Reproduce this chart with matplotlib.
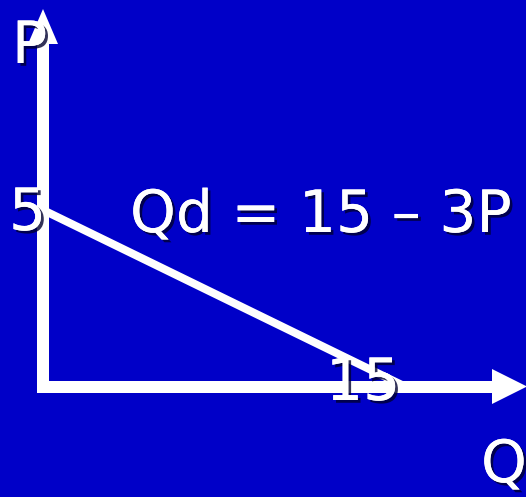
import matplotlib
matplotlib.use("Agg")
import matplotlib.pyplot as plt
import matplotlib.patheffects as pe
from matplotlib.patches import Polygon
import numpy as np

# Data: demand curve Qd = 15 - 3P
price = [0, 5]
quantity = [15 - 3 * p for p in price]  # [15, 0]
p_intercept_label = "5"
q_intercept_label = "15"
equation = "Qd = 15 – 3P"
axis_labels = ["Q", "P"]

W, H = 526, 497
BG = "#0000C8"
fig = plt.figure(figsize=(W / 100, H / 100), dpi=100, facecolor=BG)
ax = fig.add_axes([0, 0, 1, 1])
ax.set_facecolor(BG)
ax.axis("off")

# pixel geometry of origin and scales
X0, Y0 = 43, 386.5
SX = (405 - 43) / 15.0   # px per unit Q
SY = (386.5 - 210) / 5.0  # px per unit P
ax.set_xlim(-X0 / SX, (W - X0) / SX)
ax.set_ylim((Y0 - H) / SY, Y0 / SY)

def dx(px):
    return (px - X0) / SX

def dy(py):
    return (Y0 - py) / SY

white = "white"
lw_axis = 12 / (100 / 72)
lw_curve = 8 / (100 / 72)

# axes
ax.plot([0, 0], [dy(392.5), dy(44)], color=white, lw=lw_axis, solid_capstyle="butt")
ax.plot([dx(37), dx(493)], [0, 0], color=white, lw=lw_axis, solid_capstyle="butt")
ax.add_patch(Polygon([[dx(28), dy(44)], [dx(58), dy(44)], [0, dy(9)]],
                     closed=True, color=white, lw=0))
ax.add_patch(Polygon([[dx(492), dy(369)], [dx(492), dy(404)], [dx(527), 0]],
                     closed=True, color=white, lw=0))

# demand curve
ax.plot(quantity, price, color=white, lw=lw_curve, solid_capstyle="butt")

fx = [pe.withSimplePatchShadow(offset=(2, -2), shadow_rgbFace="#000030", alpha=0.8),
      pe.Normal()]
fs = 42
kw = dict(color=white, fontsize=fs, family="DejaVu Sans", path_effects=fx,
          ha="left", va="baseline")

ax.text(dx(12), dy(63), axis_labels[1], **kw)
ax.text(dx(9), dy(230), p_intercept_label, **kw)
ax.text(dx(130), dy(232), equation, **kw)
ax.text(dx(326), dy(400), q_intercept_label, **kw)
ax.text(dx(481), dy(482), axis_labels[0], **kw)

fig.savefig("out.png", dpi=100, facecolor=BG)
